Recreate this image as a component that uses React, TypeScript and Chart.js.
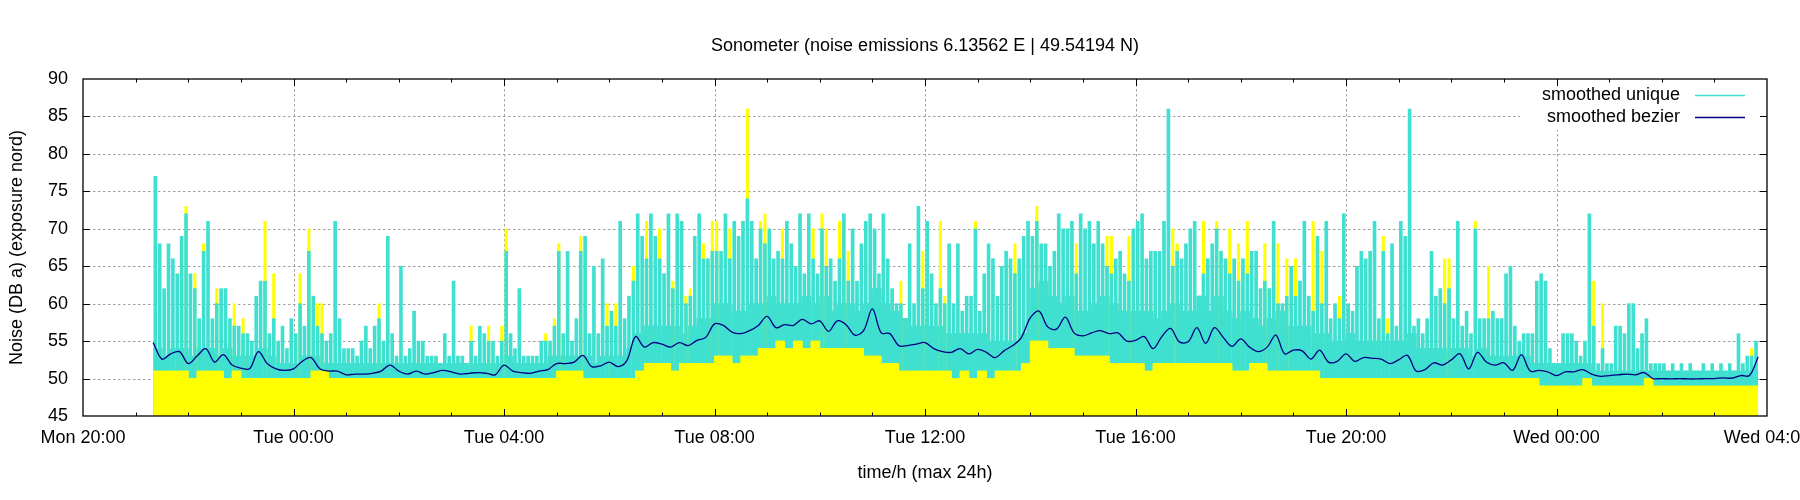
import { Chart, registerables } from "chart.js";
import { useEffect, useRef } from "react";

Chart.register(...registerables);

const chartTitle = "Sonometer (noise emissions 6.13562 E | 49.54194 N)";
const yTitle = "Noise (DB a) (exposure nord)";
const xTitle = "time/h (max 24h)";
const xTickLabels = [
    "Mon 20:00", "Tue 00:00", "Tue 04:00", "Tue 08:00", "Tue 12:00",
    "Tue 16:00", "Tue 20:00", "Wed 00:00", "Wed 04:00",
];

// first reading is Mon 21:20, i.e. 80 minutes after the axis start (Mon 20:00)
const firstMinute = 80;
const coarseStep = 10; // minutes between values of the 10-minute series
const fineStep = 5; // minutes between values of the 5-minute series

// solid part of "smoothed unique", one value per 10 minutes
const uniqueBand = [
    54, 53, 54, 54, 53, 54, 54, 53, 54,
    53, 53, 53, 54, 53, 52, 52, 52,
    53, 53, 52,
    52, 52, 52, 52, 52, 52, 52, 52, 52, 52, 52, 52, 52, 52, 52, 52, 52, 52, 52, 52,
    53, 52, 52, 52, 52, 53, 53,
    53, 53, 53, 52, 53, 53, 53, 54,
    56, 57, 57, 57, 57, 56, 57, 58, 58,
    60, 60, 59, 59, 60,
    60, 61, 60, 60, 60, 61, 60, 61, 59, 60, 60, 59, 60, 62, 60,
    59, 58, 57,
    57, 57, 57, 56, 56, 56, 56, 56, 55,
    55, 55, 55, 56,
    62, 63, 61, 60, 61, 59, 59,
    60, 61, 60, 59, 59, 59, 59, 58, 59, 60,
    59, 59, 61, 59, 61, 59, 58, 59, 58, 57, 58, 59,
    57, 57, 57, 56,
    56, 55, 55, 56, 55, 55, 55, 55, 55, 55, 56,
    54, 54, 54, 54, 54, 54, 53, 54, 53, 53, 53, 53, 53,
    52, 52, 52, 52, 52, 52, 52,
    51, 51, 51, 51, 51, 51, 51, 51, 51, 51, 51, 51, 51, 51, 51, 51, 51, 51, 51,
];

// highest "smoothed unique" value in each 5-minute slot
const uniquePeak = [
    77, 68, 62, 68, 66, 64, 69, 72, 64, 62,
    58, 67, 71, 58, 60, 62, 62, 58, 57, 57,
    56, 56, 55, 61, 63, 63, 56, 58, 55, 57,
    54, 58, 56, 60, 57, 67, 61, 57, 56, 55,
    56, 71, 58, 54, 54, 54, 53, 55, 57, 54,
    57, 58, 55, 69, 56, 53, 65, 53, 54, 59,
    55, 55, 53, 53, 53, 52, 56, 53, 63, 53,
    53, 52, 55, 53, 57, 56, 55, 55, 53, 55,
    67, 56, 54, 62, 53, 53, 53, 53, 55, 55,
    55, 57, 67, 56, 67, 55, 58, 67, 69, 56,
    65, 56, 66, 57, 59, 57, 71, 58, 61, 63,
    72, 69, 66, 72, 69, 66, 64, 72, 62, 72,
    71, 60, 61, 69, 72, 66, 66, 67, 67, 67,
    72, 66, 71, 69, 71, 74, 71, 66, 70, 68,
    70, 66, 67, 66, 71, 68, 65, 72, 64, 72,
    66, 64, 70, 65, 66, 63, 66, 72, 63, 70,
    63, 68, 71, 72, 70, 64, 72, 66, 62, 60,
    60, 58, 68, 60, 73, 62, 71, 64, 60, 62,
    60, 68, 60, 68, 59, 61, 61, 70, 59, 64,
    68, 66, 61, 65, 67, 66, 64, 66, 69, 71,
    69, 71, 68, 68, 65, 67, 72, 70, 70, 71,
    64, 72, 70, 71, 68, 71, 68, 65, 64, 66,
    67, 64, 63, 70, 71, 72, 66, 67, 67, 67,
    71, 86, 65, 67, 66, 68, 70, 71, 61, 64,
    66, 68, 70, 67, 66, 64, 66, 63, 66, 64,
    67, 67, 62, 63, 62, 71, 60, 60, 61, 65,
    61, 63, 71, 61, 59, 69, 60, 71, 58, 60,
    58, 72, 60, 59, 65, 67, 66, 67, 71, 58,
    67, 56, 68, 57, 71, 69, 86, 57, 58, 56,
    58, 67, 61, 62, 60, 62, 58, 71, 57, 59,
    56, 70, 58, 58, 58, 59, 58, 58, 64, 65,
    57, 55, 56, 56, 56, 63, 64, 63, 54, 52,
    52, 56, 56, 56, 55, 53, 55, 72, 57, 52,
    54, 52, 52, 57, 57, 56, 60, 60, 54, 56,
    58, 52, 52, 52, 52, 51, 52, 51, 52, 51,
    52, 51, 51, 52, 51, 52, 51, 52, 51, 52,
    51, 56, 52, 53, 53, 55,
];

// raw readings (yellow), lower body, one value per 10 minutes
const rawBase = [
    51, 51, 51, 51, 50, 51, 51, 51, 50, 51,
    50, 50, 50, 50, 50, 50, 50, 50,
    51, 51,
    50, 50, 50, 50, 50, 50, 50, 50, 50, 50, 50, 50, 50, 50, 50, 50, 50, 50, 50, 50,
    50, 50, 50, 50, 50, 50,
    51,
    51, 51,
    50, 50, 50, 50, 50, 50,
    51, 52, 52, 52, 51, 52, 52, 52, 52,
    53, 53, 52, 53, 53,
    54, 54, 55, 54, 55, 54, 55, 54, 54, 54, 54, 54,
    53, 53,
    52, 52,
    51, 51, 51, 51, 51,
    51, 50, 51, 50, 51, 50,
    51, 51, 51,
    52, 55, 55, 54, 54, 54, 53,
    53, 53, 53, 52, 52, 52, 52, 51,
    52, 52, 52, 52, 52, 52, 52, 52, 52, 51, 51, 52, 52, 51, 51, 51,
    51, 51, 51, 50,
    50, 50, 50, 50, 50, 50, 50, 50, 50, 50, 50, 50,
    50, 50, 50, 50, 50, 50, 50, 50, 50, 50, 50, 50,
    49, 49, 49, 49, 49, 50, 49, 49, 49, 49, 49, 49, 50,
    49, 49, 49, 49, 49, 49, 49, 49, 49, 49, 49, 49,
];

// raw readings that stick out above "smoothed unique": [5-minute slot, dB]
const rawSpikes = [
    [5, 64], [7, 73], [9, 64], [11, 68], [14, 62], [18, 60], [20, 58], [25, 71],
    [27, 64], [33, 64], [35, 70], [37, 60], [38, 60], [51, 60], [72, 57], [76, 57],
    [79, 57], [80, 70], [89, 56], [91, 58], [92, 68], [97, 69], [103, 60], [105, 60],
    [109, 65], [112, 71], [115, 70], [118, 63], [121, 61], [122, 62], [125, 68],
    [127, 71], [128, 71], [131, 70], [135, 86], [138, 71], [139, 72], [143, 70],
    [150, 70], [152, 72], [153, 70], [156, 71], [158, 67], [170, 63], [175, 67],
    [179, 71], [180, 61], [187, 71], [196, 68], [201, 73], [210, 68], [217, 69],
    [218, 69], [222, 69], [232, 70], [233, 68], [239, 71], [242, 71], [245, 70],
    [247, 68], [249, 71], [253, 68], [256, 68], [258, 66], [260, 66], [264, 71],
    [266, 67], [270, 61], [280, 69], [281, 58], [294, 66], [295, 66], [301, 71],
    [304, 65], [328, 63], [330, 60], [364, 54],
];

// "smoothed bezier", one value per 10 minutes, Mon 21:20 .. Wed 03:50
const bezier = [
    54.8, 52.6, 53.3, 53.6, 52.0, 53.0, 54.0, 52.2, 53.2,
    51.8, 51.4, 51.3, 53.6, 52.0, 51.3, 51.1, 51.3, 52.3, 52.8, 51.3,
    51.0, 51.0, 50.5, 50.6, 50.6, 50.7, 51.0, 51.8, 51.0, 50.6,
    51.0, 50.6, 50.8, 51.1, 50.9, 50.6, 50.7, 50.8, 50.7, 50.5,
    51.8, 51.0, 50.8, 50.7, 51.0, 51.2, 52.0,
    52.0, 52.2, 53.1, 51.6, 51.7, 52.2, 51.6, 52.4, 55.6, 54.2,
    54.8, 54.6, 54.2, 54.8, 54.4, 55.1, 55.5, 57.3, 57.1, 56.2,
    56.0, 56.4, 57.1, 58.3, 56.8, 57.2, 57.1, 57.9, 57.3, 57.7,
    56.3, 57.7, 57.2, 55.8, 56.4, 59.3, 56.1, 56.0, 54.4, 54.4,
    54.6, 54.8, 54.0, 53.6, 53.5, 54.0, 53.3, 53.9, 53.5,
    52.8, 53.7, 54.4, 55.5, 58.1, 59.0, 56.9, 56.6, 58.2, 56.1,
    55.7, 56.1, 56.4, 56.0, 56.1, 55.0, 55.1, 55.6, 54.0, 55.6,
    56.7, 54.9, 54.9, 56.8, 54.7, 56.8, 55.5, 54.3, 55.3, 54.2,
    53.6, 54.2, 55.8, 53.3, 53.8, 53.7, 52.6, 53.8, 52.2, 52.3,
    53.3, 52.3, 52.8, 52.7, 52.6, 52.0, 52.5, 53.1,
    51.0, 51.2, 52.1, 51.8, 52.5, 53.3, 51.3, 53.5, 52.2, 51.8,
    52.1, 51.1, 53.2, 51.0, 51.1, 50.9, 50.4, 50.9, 50.9, 51.2,
    50.6, 50.3, 50.4, 50.5, 50.6, 50.5, 50.8, 50.0, 50.0, 49.95,
    50.0, 49.95, 49.95, 50.0, 50.0, 50.1, 50.05, 50.4, 50.4, 52.9,
];

const keyEntries = [
    { label: "smoothed unique", color: "#40e0d0" },
    { label: "smoothed bezier", color: "#000080" },
];

const FONT = '"Liberation Sans", Arial, Helvetica, sans-serif';
const TURQUOISE = "#40e0d0";
const YELLOW = "#ffff00";
const NAVY = "#000080";

const toHour = (minute: number) => minute / 60;

// step area: each value holds until the next one, last one closes one step later
function stepPoints(values: number[], step: number) {
    const pts = values.map((v, k) => ({ x: toHour(firstMinute + k * step), y: v }));
    pts.push({ x: toHour(firstMinute + values.length * step), y: values[values.length - 1] });
    return pts;
}

function slotPoints(values: number[], step: number) {
    return values.map((v, k) => ({ x: toHour(firstMinute + (k + 0.5) * step), y: v }));
}

// gnuplot look: dashed grid behind the data, framed box with inward ticks, key top right
const gnuplotFrame = {
    id: "gnuplotFrame",
    beforeDatasetsDraw(chart: any) {
        const { ctx, chartArea } = chart;
        const { left, right, top, bottom } = chartArea;
        const xs = chart.scales.x;
        const ys = chart.scales.y;
        ctx.save();
        ctx.strokeStyle = "#a0a0a0";
        ctx.lineWidth = 1;
        ctx.setLineDash([2.5, 2.5]);
        ctx.beginPath();
        for (let v = 50; v < 90; v += 5) {
            const py = Math.round(ys.getPixelForValue(v)) + 0.5;
            ctx.moveTo(left, py);
            ctx.lineTo(right, py);
        }
        for (let h = 4; h < 32; h += 4) {
            const px = Math.round(xs.getPixelForValue(h)) + 0.5;
            ctx.moveTo(px, top);
            ctx.lineTo(px, bottom);
        }
        ctx.stroke();
        ctx.restore();
    },
    afterDraw(chart: any) {
        const { ctx, chartArea } = chart;
        const { left, right, top, bottom } = chartArea;
        const xs = chart.scales.x;
        const ys = chart.scales.y;
        ctx.save();

        // key
        ctx.fillStyle = "#ffffff";
        ctx.fillRect(right - 247, top + 1, 246, 50);
        ctx.font = "18px " + FONT;
        ctx.textAlign = "right";
        ctx.textBaseline = "middle";
        keyEntries.forEach((entry, k) => {
            const ky = top + 16 + k * 22;
            ctx.fillStyle = "#000";
            ctx.fillText(entry.label, right - 87, ky);
            ctx.strokeStyle = entry.color;
            ctx.lineWidth = 1.5;
            ctx.beginPath();
            ctx.moveTo(right - 72, ky + 0.5);
            ctx.lineTo(right - 22, ky + 0.5);
            ctx.stroke();
        });

        // border
        ctx.strokeStyle = "#000";
        ctx.lineWidth = 1.3;
        ctx.strokeRect(left, top, right - left, bottom - top);

        // inward ticks
        ctx.lineWidth = 1;
        ctx.beginPath();
        for (let v = 50; v < 90; v += 5) {
            const py = Math.round(ys.getPixelForValue(v)) + 0.5;
            ctx.moveTo(left, py);
            ctx.lineTo(left + 7, py);
            ctx.moveTo(right, py);
            ctx.lineTo(right - 7, py);
        }
        for (let h = 1; h < 32; h++) {
            const px = Math.round(xs.getPixelForValue(h)) + 0.5;
            const len = h % 4 === 0 ? 7 : 3.5;
            ctx.moveTo(px, bottom);
            ctx.lineTo(px, bottom - len);
            ctx.moveTo(px, top);
            ctx.lineTo(px, top + len);
        }
        ctx.stroke();
        ctx.restore();
    },
};

export default function App() {
    const canvasRef = useRef<HTMLCanvasElement | null>(null);
    const chartRef = useRef<Chart | null>(null);

    useEffect(() => {
        document.body.style.margin = "0";
        const ctx = canvasRef.current?.getContext("2d");
        if (!ctx) return;

        if (chartRef.current) {
            chartRef.current.destroy();
        }

        // drawing order (highest "order" first): cyan band, raw spikes, cyan peaks, raw base, bezier
        chartRef.current = new Chart(ctx, {
            type: "line",
            data: {
                datasets: [
                    {
                        type: "line",
                        label: "smoothed unique",
                        data: stepPoints(uniqueBand, coarseStep),
                        stepped: true,
                        fill: "start",
                        backgroundColor: TURQUOISE,
                        borderColor: TURQUOISE,
                        borderWidth: 1,
                        pointRadius: 0,
                        order: 4,
                    },
                    {
                        type: "bar",
                        label: "raw spikes",
                        data: rawSpikes.map(([slot, v]) => ({
                            x: toHour(firstMinute + (slot + 0.5) * fineStep),
                            y: v,
                        })),
                        backgroundColor: YELLOW,
                        borderWidth: 0,
                        barThickness: 2.4,
                        grouped: false,
                        base: 45,
                        order: 3,
                    },
                    {
                        type: "bar",
                        label: "smoothed unique peaks",
                        data: slotPoints(uniquePeak, fineStep),
                        backgroundColor: TURQUOISE,
                        borderWidth: 0,
                        barThickness: 3,
                        grouped: false,
                        base: 45,
                        order: 2,
                    },
                    {
                        type: "line",
                        label: "raw",
                        data: stepPoints(rawBase, coarseStep),
                        stepped: true,
                        fill: "start",
                        backgroundColor: YELLOW,
                        borderColor: YELLOW,
                        borderWidth: 1,
                        pointRadius: 0,
                        order: 1,
                    },
                    {
                        type: "line",
                        label: "smoothed bezier",
                        data: bezier.map((v, k) => ({ x: toHour(firstMinute + k * coarseStep), y: v })),
                        borderColor: NAVY,
                        borderWidth: 1.3,
                        pointRadius: 0,
                        tension: 0.35,
                        fill: false,
                        order: 0,
                    },
                ] as any,
            },
            options: {
                responsive: false,
                animation: false,
                events: [],
                layout: { padding: { left: 0, right: 33, top: 0, bottom: 0 } },
                plugins: {
                    legend: { display: false },
                    tooltip: { enabled: false },
                    title: {
                        display: true,
                        text: chartTitle,
                        fullSize: false,
                        color: "#000",
                        font: { family: FONT, size: 18, weight: "normal", lineHeight: 1.2 },
                        padding: { top: 35, bottom: 22.4 },
                    },
                },
                scales: {
                    x: {
                        type: "linear",
                        min: 0,
                        max: 32,
                        offset: false,
                        grid: { display: false, drawTicks: false },
                        border: { display: false },
                        ticks: {
                            stepSize: 4,
                            autoSkip: false,
                            maxRotation: 0,
                            padding: 11,
                            color: "#000",
                            font: { family: FONT, size: 18 },
                            callback: (value: any) => xTickLabels[Math.round(Number(value) / 4)] ?? "",
                        },
                        title: {
                            display: true,
                            text: xTitle,
                            color: "#000",
                            font: { family: FONT, size: 18, lineHeight: 1.2 },
                            padding: { top: 0, bottom: 16 },
                        },
                        afterFit: (scale: any) => {
                            scale.height = 84;
                            scale.paddingLeft = 0;
                            scale.paddingRight = 0;
                        },
                    },
                    y: {
                        type: "linear",
                        min: 45,
                        max: 90,
                        grid: { display: false, drawTicks: false },
                        border: { display: false },
                        ticks: {
                            stepSize: 5,
                            padding: 15,
                            color: "#000",
                            font: { family: FONT, size: 18 },
                        },
                        title: {
                            display: true,
                            text: yTitle,
                            color: "#000",
                            font: { family: FONT, size: 18, lineHeight: 1.2 },
                            padding: { top: 6, bottom: 0 },
                        },
                        afterFit: (scale: any) => {
                            scale.width = 83;
                            scale.paddingTop = 0;
                            scale.paddingBottom = 0;
                        },
                    },
                },
            } as any,
            plugins: [gnuplotFrame],
        });

        return () => {
            if (chartRef.current) {
                chartRef.current.destroy();
                chartRef.current = null;
            }
        };
    }, []);

    return (
        <div style={{ width: 1800, height: 500, background: "#fff" }}>
            <canvas ref={canvasRef} width={1800} height={500} style={{ display: "block" }} />
        </div>
    );
}
